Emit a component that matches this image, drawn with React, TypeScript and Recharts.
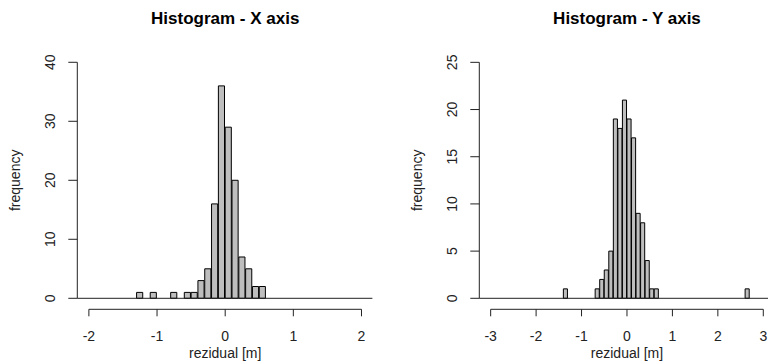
import React from "react";
import { BarChart, Bar, XAxis, YAxis, ReferenceLine } from "recharts";

// residual histograms, bins of 0.1 m (bin start -> count)
const xBinStarts = [-1.3, -1.1, -0.8, -0.6, -0.5, -0.4, -0.3, -0.2, -0.1, 0, 0.1, 0.2, 0.3, 0.4, 0.5];
const xCounts = [1, 1, 1, 1, 1, 3, 5, 16, 36, 29, 20, 7, 5, 2, 2];
const xAxisTicksX = [-2, -1, 0, 1, 2];
const yAxisTicksX = [0, 10, 20, 30, 40];

const yBinStarts = [-1.4, -0.7, -0.6, -0.5, -0.4, -0.3, -0.2, -0.1, 0, 0.1, 0.2, 0.3, 0.4, 0.5, 0.6, 2.6];
const yCounts = [1, 1, 2, 3, 5, 19, 18, 21, 19, 17, 9, 8, 4, 1, 1, 1];
const xAxisTicksY = [-3, -2, -1, 0, 1, 2, 3];
const yAxisTicksY = [0, 5, 10, 15, 20, 25];

const BIN = 0.1;
const FONT = "'Liberation Sans', Arial, sans-serif";
const INK = "#222";
const H = 364;
const TOP = 52.9;
const AXIS_Y = 309.3;

const toBins = (starts: number[], counts: number[]) =>
  starts.map((s, i) => ({ mid: s + BIN / 2, count: counts[i] }));

const XTick = (props: any) => {
  const { x, y, payload } = props;
  return (
    <text x={x} y={y + 25} textAnchor="middle" fontSize={14} fontFamily={FONT} fill={INK}>
      {payload.value}
    </text>
  );
};

const YTick = (props: any) => {
  const { x, y, payload } = props;
  const tx = x - 13;
  return (
    <text
      x={tx}
      y={y}
      transform={`rotate(-90, ${tx}, ${y})`}
      textAnchor="middle"
      fontSize={14}
      fontFamily={FONT}
      fill={INK}
    >
      {payload.value}
    </text>
  );
};

type HistProps = {
  title: string;
  data: { mid: number; count: number }[];
  xTicks: number[];
  yTicks: number[];
  xDomain: [number, number];
  yDomain: [number, number];
  left: number;
  width: number;
  axisW: number;
  marginRight: number;
};

function Histogram({ title, data, xTicks, yTicks, xDomain, yDomain, left, width, axisW, marginRight }: HistProps) {
  const plotW = width - axisW - marginRight;
  const barPx = (BIN * plotW) / (xDomain[1] - xDomain[0]);
  const centerX = axisW + ((0 - xDomain[0]) / (xDomain[1] - xDomain[0])) * plotW;
  const midY = (62.3 + 298.3) / 2;
  return (
    <div style={{ position: "absolute", left, top: 0, width, height: H }}>
      <BarChart
        width={width}
        height={H}
        data={data}
        margin={{ top: TOP, right: marginRight, bottom: 0, left: 0 }}
      >
        <XAxis
          type="number"
          dataKey="mid"
          domain={xDomain}
          ticks={xTicks}
          allowDataOverflow
          axisLine={false}
          tickLine={{ stroke: INK }}
          tickSize={7}
          tickMargin={0}
          tick={<XTick />}
          height={H - AXIS_Y}
          interval={0}
        />
        <YAxis
          type="number"
          domain={yDomain}
          ticks={yTicks}
          allowDataOverflow
          axisLine={false}
          tickLine={{ stroke: INK }}
          tickSize={9}
          tickMargin={0}
          tick={<YTick />}
          width={axisW}
          interval={0}
        />
        <ReferenceLine y={0} stroke={INK} />
        <ReferenceLine
          segment={[{ x: xDomain[0], y: 0 }, { x: xDomain[0], y: yTicks[yTicks.length - 1] }]}
          stroke={INK}
          ifOverflow="visible"
        />
        <ReferenceLine
          segment={[{ x: xTicks[0], y: yDomain[0] }, { x: xTicks[xTicks.length - 1], y: yDomain[0] }]}
          stroke={INK}
          ifOverflow="visible"
        />
        <Bar dataKey="count" fill="#bebebe" stroke="#000" strokeWidth={1} barSize={barPx} isAnimationActive={false} />
      </BarChart>
      <svg width={width} height={H} style={{ position: "absolute", left: 0, top: 0, pointerEvents: "none" }}>
        <text x={centerX} y={23.5} textAnchor="middle" fontSize={17} fontWeight="bold" fontFamily={FONT} fill="#000">
          {title}
        </text>
        <text x={centerX} y={358} textAnchor="middle" fontSize={14} fontFamily={FONT} fill={INK}>
          rezidual [m]
        </text>
        <text
          x={axisW - 57}
          y={midY}
          transform={`rotate(-90, ${axisW - 57}, ${midY})`}
          textAnchor="middle"
          fontSize={14}
          fontFamily={FONT}
          fill={INK}
        >
          frequency
        </text>
      </svg>
    </div>
  );
}

export default function App() {
  return (
    <div style={{ position: "absolute", left: 0, top: 0, width: 768, height: H, overflow: "hidden", background: "#fff" }}>
      <Histogram
        title="Histogram - X axis"
        data={toBins(xBinStarts, xCounts)}
        xTicks={xAxisTicksX}
        yTicks={yAxisTicksX}
        xDomain={[-2.17, 2.16]}
        yDomain={[-1.864, 41.59]}
        left={0}
        width={384}
        axisW={77.3}
        marginRight={11.6}
      />
      <Histogram
        title="Histogram - Y axis"
        data={toBins(yBinStarts, yCounts)}
        xTicks={xAxisTicksY}
        yTicks={yAxisTicksY}
        xDomain={[-3.25, 3.24]}
        yDomain={[-1.165, 26]}
        left={384}
        width={400}
        axisW={95.3}
        marginRight={9.8}
      />
    </div>
  );
}
